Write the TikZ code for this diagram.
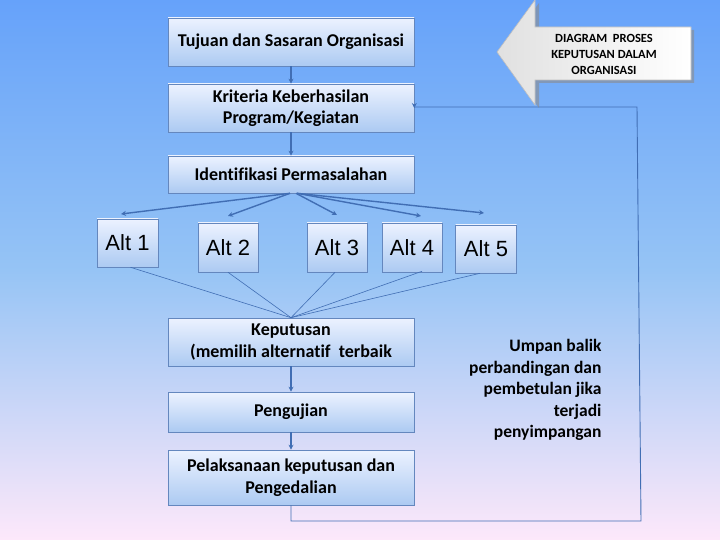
\documentclass[tikz,border=0pt]{standalone}
\usepackage{fontspec}
\setmainfont{Carlito}[Ligatures=NoCommon]
\newfontfamily\altfont{Liberation Sans}
\usetikzlibrary{arrows.meta,calc,shadows}
\definecolor{bgtop}{RGB}{102,162,250}
\definecolor{bgmid}{RGB}{150,196,245}
\definecolor{bgbot}{RGB}{253,232,250}
\definecolor{boxtop}{RGB}{236,242,255}
\definecolor{boxbot}{RGB}{172,202,242}
\definecolor{boxline}{RGB}{100,135,190}
\definecolor{conn}{RGB}{65,110,180}
\begin{document}
\begin{tikzpicture}[x=1pt,y=-1pt,
  box/.style={draw=boxline,line width=0.6pt,top color=boxtop,bottom color=boxbot,
    minimum width=246pt,inner sep=0pt,align=center,font=\fontsize{18}{21.5}\selectfont\bfseries},
  altbox/.style={draw=boxline,line width=0.6pt,top color=boxtop,bottom color=boxbot,
    minimum width=60pt,minimum height=48pt,inner sep=0pt,font=\altfont\fontsize{22}{24}\selectfont},
  conline/.style={draw=conn,line width=1.4pt},
  thin/.style={draw=conn,line width=0.6pt},
  tip/.style={-{Stealth[length=5pt,width=5pt]}}
]
\useasboundingbox (0,0) rectangle (720,540);
\shade[top color=bgtop,bottom color=bgmid] (0,0) rectangle (720,271);
\shade[top color=bgmid,bottom color=bgbot] (0,270) rectangle (720,540);

% main column
\node[box,minimum height=48pt] (b1) at (291,42) {Tujuan dan Sasaran Organisasi};
\node[box,minimum height=48pt] (b2) at (291,108) {Kriteria Keberhasilan\\Program/Kegiatan};
\node[box,minimum height=37pt] (b3) at (291,174.5) {Identifikasi Permasalahan};
\node[box,minimum height=48pt] (b4) at (291,342) {Keputusan\\(memilih alternatif\ \ terbaik};
\node[box,minimum height=40pt] (b5) at (291,412) {Pengujian};
\node[box,minimum height=55pt] (b6) at (291,477.5) {Pelaksanaan keputusan dan\\Pengedalian};

% alternatives
\node[altbox,minimum width=61pt] (a1) at (127.5,243) {Alt 1};
\node[altbox,minimum height=49pt] (a2) at (228,247.5) {Alt 2};
\node[altbox,minimum height=49pt] (a3) at (337,247.5) {Alt 3};
\node[altbox,minimum height=49pt] (a4) at (412,247.5) {Alt 4};
\node[altbox,minimum width=61pt] (a5) at (486,249) {Alt 5};

% arrow targets above the alternatives
\coordinate (t1) at (121,214);
\coordinate (t2) at (228,216);
\coordinate (t3) at (337,215);
\coordinate (t4) at (421,216);
\coordinate (t5) at (484,213);

% vertical connectors
\draw[conline,tip] (b1.south) -- (b2.north);
\draw[conline,tip] (b2.south) -- (b3.north);
\draw[conline,tip] (b4.south) -- (b5.north);
\draw[conline,tip] (b5.south) -- (b6.north);

% fan out
\draw[conline,tip] ($(b3.south)+(-1,0)$) -- (t1);
\draw[conline,tip] ($(b3.south)+(-1,0)$) -- (t2);
\draw[conline,tip] ($(b3.south)+(5,0)$) -- (t3);
\draw[conline,tip] ($(b3.south)+(6,0)$) -- (t4);
\draw[conline,tip] ($(b3.south)+(6,0)$) -- (t5);

% fan in
\draw[thin] ($(a1.south)+(3,0)$) -- (b4.north);
\draw[thin] (a2.south) -- (b4.north);
\draw[thin] ($(a3.south)+(-2,0)$) -- (b4.north);
\draw[thin] ($(a4.south)+(10,-1)$) -- (b4.north);
\draw[thin] ($(a5.south)+(-6,0)$) -- (b4.north);

% feedback loop
\coordinate (f1) at (291,521);
\coordinate (f2) at (641,521);
\coordinate (f3) at (637,107);
\draw[thin,line width=0.9pt,tip] (b6.south) -- (f1) -- (f2) -- (f3) -- (f3 -| b2.east) -- (b2.east);

\node[anchor=east,align=right,font=\fontsize{17.5}{21.5}\selectfont\bfseries] (fb) at (605,390)
  {Umpan balik\\perbandingan dan\\pembetulan jika\\terjadi\\penyimpangan};

% big title arrow
\fill[black!45,opacity=0.6] (501,55) -- (539,3) -- (539,30) -- (694,30) -- (694,83) -- (539,83) -- (539,108) -- cycle;
\shade[left color=black!12,right color=white,draw=black!25,line width=0.6pt]
  (497,52) -- (535,0) -- (535,27) -- (691,27) -- (691,80) -- (535,80) -- (535,105) -- cycle;
\node[align=center,font=\fontsize{12.5}{16}\selectfont\bfseries] (title) at (604,54)
  {DIAGRAM\ \ PROSES\\KEPUTUSAN DALAM\\ORGANISASI};
\end{tikzpicture}
\end{document}
